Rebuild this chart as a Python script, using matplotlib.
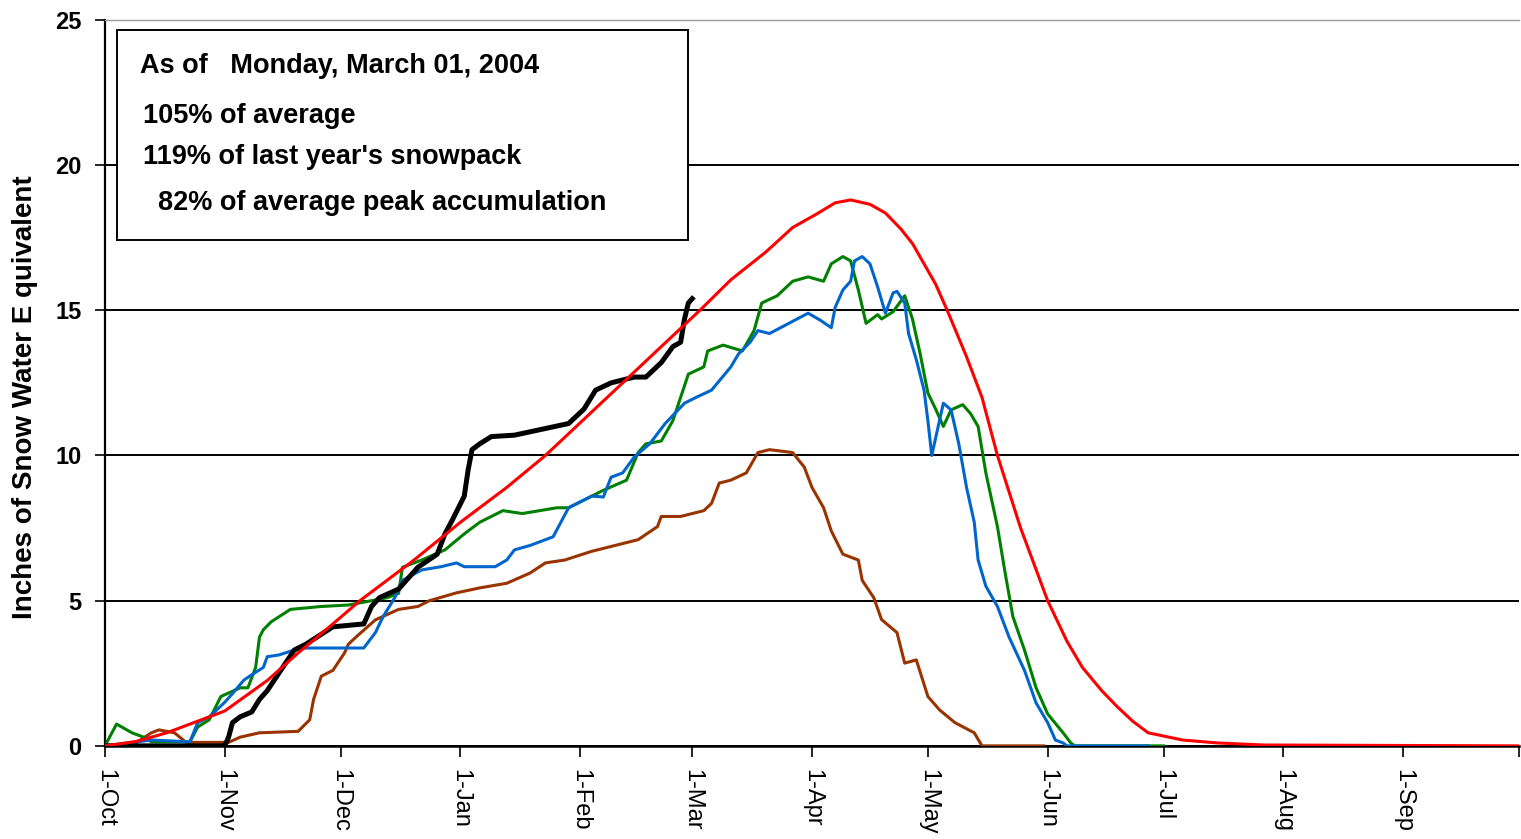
import matplotlib
matplotlib.use("Agg")
import matplotlib.pyplot as plt
from matplotlib.patches import Rectangle

plt.rcParams['font.family'] = ['Liberation Sans', 'DejaVu Sans']

# Water year axis: day 0 = 1-Oct-2003, 366 days (leap year)
month_days = [0, 31, 61, 92, 123, 152, 183, 213, 244, 274, 305, 336]
month_labels = ['1-Oct', '1-Nov', '1-Dec', '1-Jan', '1-Feb', '1-Mar',
                '1-Apr', '1-May', '1-Jun', '1-Jul', '1-Aug', '1-Sep']
year_end = 366

# Average snow water equivalent
avg_day = [0, 8, 16, 24, 31, 42, 50, 59, 66, 80, 92, 104, 114, 130, 142, 154,
           162, 171, 178, 184, 189, 193, 198, 202, 206, 209, 212, 215, 218,
           223, 227, 231, 237, 244, 249, 253, 258, 262, 266, 270, 279, 288,
           300, 366]
avg_val = [0, 0.15, 0.45, 0.85, 1.2, 2.25, 3.2, 4.2, 5.0, 6.4, 7.7, 8.9, 10.0,
           12.0, 13.5, 15.0, 16.05, 17.0, 17.85, 18.3, 18.7, 18.8, 18.65,
           18.35, 17.8, 17.3, 16.6, 15.9, 15.0, 13.4, 12.0, 10.0, 7.5, 5.0,
           3.6, 2.7, 1.9, 1.35, 0.85, 0.45, 0.2, 0.1, 0.03, 0]

# Current water year (through 1-Mar)
cur_day = [0, 31, 32, 33, 35, 38, 40, 42, 45, 49, 52, 59, 63, 67, 69, 71, 76,
           81, 86, 88, 90, 93, 94, 95, 97, 100, 106, 113, 120, 124, 127, 131,
           137, 140, 144, 147, 149, 150, 151, 152]
cur_val = [0, 0, 0.3, 0.8, 1.0, 1.17, 1.6, 1.9, 2.5, 3.3, 3.5, 4.1, 4.15, 4.2,
           4.8, 5.1, 5.4, 6.15, 6.6, 7.3, 7.8, 8.6, 9.5, 10.2, 10.4, 10.65,
           10.7, 10.9, 11.1, 11.6, 12.25, 12.5, 12.7, 12.7, 13.2, 13.75, 13.9,
           14.7, 15.25, 15.4]

# Previous water years
grn_day = [0, 3, 7, 10, 12, 22, 24, 27, 30, 35, 37, 39, 40, 41, 43, 48, 56,
           63, 65, 73, 76, 77, 82, 88, 93, 97, 103, 108, 117, 120, 126, 129,
           135, 138, 140, 144, 147, 149, 151, 155, 156, 160, 165, 168, 170,
           174, 178, 182, 186, 188, 191, 193, 195, 197, 200, 201, 204, 207,
           209, 211, 213, 215, 217, 219, 222, 224, 226, 228, 231, 233, 235,
           238, 241, 244, 248, 250, 251, 274]
grn_val = [0, 0.75, 0.45, 0.3, 0.14, 0.14, 0.65, 0.9, 1.7, 2.0, 2.0, 2.7,
           3.75, 4.0, 4.27, 4.7, 4.8, 4.85, 4.9, 5.1, 5.25, 6.15, 6.4, 6.75,
           7.3, 7.7, 8.1, 8.0, 8.2, 8.2, 8.6, 8.8, 9.15, 10.1, 10.4, 10.5,
           11.2, 12.0, 12.8, 13.05, 13.6, 13.8, 13.6, 14.3, 15.25, 15.5, 16.0,
           16.15, 16.0, 16.6, 16.85, 16.7, 15.7, 14.55, 14.85, 14.7, 14.95,
           15.5, 14.7, 13.5, 12.15, 11.6, 11.0, 11.57, 11.75, 11.45, 11.0,
           9.4, 7.55, 5.95, 4.45, 3.3, 2.0, 1.1, 0.45, 0.1, 0, 0]

blu_day = [0, 6, 12, 22, 24, 27, 31, 33, 36, 38, 41, 42, 45, 49, 52, 67, 70,
           72, 75, 77, 82, 87, 91, 93, 101, 104, 106, 110, 116, 118, 120, 126,
           129, 131, 134, 137, 141, 145, 150, 153, 157, 162, 164, 167, 169,
           172, 177, 182, 185, 188, 189, 191, 193, 194, 196, 198, 200, 202,
           204, 205, 207, 208, 210, 212, 213, 214, 215, 217, 219, 221, 223,
           225, 226, 228, 231, 234, 238, 241, 244, 246, 248, 249, 270]
blu_val = [0, 0.1, 0.2, 0.14, 0.8, 1.0, 1.5, 1.8, 2.27, 2.45, 2.7, 3.07, 3.13,
           3.3, 3.37, 3.37, 3.9, 4.45, 5.1, 5.7, 6.06, 6.17, 6.3, 6.17, 6.17,
           6.4, 6.75, 6.9, 7.2, 7.7, 8.2, 8.6, 8.57, 9.25, 9.4, 9.95, 10.4,
           11.1, 11.8, 12.0, 12.25, 13.05, 13.5, 13.9, 14.3, 14.2, 14.55,
           14.9, 14.67, 14.4, 15.1, 15.7, 16.0, 16.7, 16.85, 16.6, 15.8, 14.9,
           15.6, 15.65, 15.25, 14.2, 13.3, 12.25, 11.2, 10.0, 10.6, 11.8,
           11.57, 10.4, 8.9, 7.7, 6.4, 5.5, 4.8, 3.75, 2.6, 1.48, 0.8, 0.2,
           0.1, 0, 0]

brn_day = [0, 8, 12, 14, 18, 21, 32, 35, 40, 50, 53, 54, 56, 59, 62, 63, 65,
           70, 76, 81, 84, 91, 97, 104, 110, 114, 119, 126, 138, 143, 144, 149,
           155, 157, 159, 162, 166, 169, 172, 178, 181, 183, 186, 188, 191,
           195, 196, 199, 201, 205, 207, 210, 213, 216, 220, 225, 227, 243]
brn_val = [0, 0.1, 0.45, 0.55, 0.45, 0.12, 0.12, 0.3, 0.45, 0.5, 0.9, 1.6,
           2.4, 2.6, 3.2, 3.5, 3.75, 4.34, 4.7, 4.8, 5.0, 5.27, 5.44, 5.6,
           5.95, 6.3, 6.4, 6.7, 7.1, 7.55, 7.9, 7.9, 8.1, 8.35, 9.05, 9.15,
           9.4, 10.1, 10.2, 10.1, 9.6, 8.9, 8.2, 7.4, 6.6, 6.4, 5.7, 5.1,
           4.35, 3.9, 2.85, 2.96, 1.7, 1.24, 0.8, 0.45, 0, 0]

info_lines = ['As of   Monday, March 01, 2004',
              '105% of average',
              "119% of last year's snowpack",
              '  82% of average peak accumulation']

fig = plt.figure(figsize=(15.21, 8.39), dpi=100)
ax = fig.add_axes([0.069, 0.111, 0.9297, 0.8653])

ax.plot(brn_day, brn_val, color='#993300', lw=2.2, zorder=4)
ax.plot(grn_day, grn_val, color='#008000', lw=2.2, zorder=4)
ax.plot(blu_day, blu_val, color='#0066CC', lw=2.2, zorder=4)
ax.plot(cur_day, cur_val, color='black', lw=3.6, zorder=5)
ax.plot(avg_day, avg_val, color='#FF0000', lw=2.2, zorder=6)

ax.set_xlim(0, year_end)
ax.set_ylim(0, 25)

ax.set_yticks([0, 5, 10, 15, 20, 25])
ax.set_yticklabels(['0', '5', '10', '15', '20', '25'], fontsize=17,
                   fontweight='bold')
ax.set_xticks(month_days + [year_end])
ax.set_xticklabels(month_labels + [''], rotation=-90, fontsize=17,
                   va='top', ha='center')
ax.tick_params(axis='x', direction='out', length=8, width=1.2, pad=9)
ax.tick_params(axis='y', direction='out', length=7, width=1.2, pad=10)

ax.yaxis.grid(True, color='black', lw=1.4)
ax.set_axisbelow(True)

ax.spines['right'].set_visible(False)
ax.spines['top'].set_color('#999999')
ax.spines['top'].set_linewidth(1.0)
ax.spines['left'].set_linewidth(1.6)
ax.spines['bottom'].set_linewidth(1.8)

ax.set_ylabel('Inches of Snow Water E quivalent', fontsize=20,
              fontweight='bold')
ax.yaxis.set_label_coords(-0.047, 0.48)

# Summary box in the upper left
ax.add_patch(Rectangle((0.0085, 0.697), 0.4035, 0.289, transform=ax.transAxes,
                       facecolor='white', edgecolor='black', lw=1.4, zorder=3))
text_pos = [(0.0245, 0.937), (0.027, 0.868), (0.027, 0.811), (0.027, 0.748)]
for (tx, ty), line in zip(text_pos, info_lines):
    ax.text(tx, ty, line, transform=ax.transAxes, fontsize=19.5,
            fontweight='bold', va='center', ha='left', zorder=7)

fig.savefig('out.png', dpi=100, facecolor='white')
